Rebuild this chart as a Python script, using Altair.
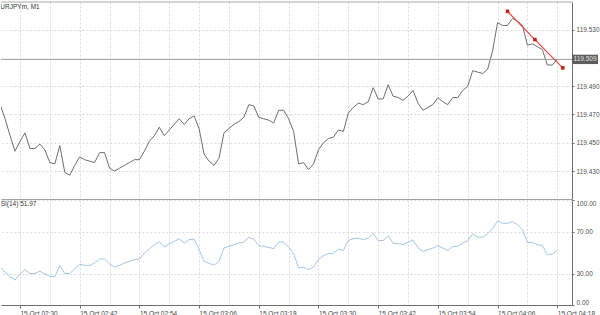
import altair as alt
import pandas as pd

# ---------------- data ----------------
symbol_label = "EURJPYm, M1"
rsi_label = "RSI(14) 51.97"
day_label = "15 Oct"
first_minute = 146          # 02:26 (minutes after midnight)

price = [
    119.477, 119.467, 119.455, 119.444, 119.451, 119.457, 119.446, 119.446, 119.449, 119.445,
    119.436, 119.435, 119.448, 119.429, 119.427, 119.434, 119.440, 119.438, 119.437, 119.436,
    119.443, 119.443, 119.432, 119.430, 119.432, 119.434, 119.436, 119.438, 119.438, 119.444,
    119.451, 119.455, 119.461, 119.455, 119.459, 119.463, 119.467, 119.463, 119.467, 119.469,
    119.460, 119.442, 119.437, 119.434, 119.439, 119.457, 119.460, 119.463, 119.465, 119.468,
    119.477, 119.476, 119.468, 119.467, 119.466, 119.464, 119.473, 119.473, 119.467, 119.458,
    119.435, 119.436, 119.431, 119.435, 119.445, 119.450, 119.453, 119.454, 119.459, 119.458,
    119.471, 119.475, 119.478, 119.477, 119.479, 119.489, 119.481, 119.481, 119.491, 119.483,
    119.482, 119.480, 119.483, 119.487, 119.478, 119.473, 119.475, 119.477, 119.482, 119.479,
    119.477, 119.482, 119.482, 119.487, 119.490, 119.501, 119.500, 119.499, 119.502, 119.515,
    119.535, 119.533, 119.533, 119.538, 119.536, 119.533, 119.519, 119.520, 119.518, 119.516,
    119.505, 119.505, 119.509,
]

rsi = [
    36.0, 31.2, 27.0, 23.7, 29.3, 33.8, 30.0, 30.0, 32.2, 29.6,
    27.4, 26.8, 37.6, 30.0, 30.0, 34.5, 38.8, 37.8, 37.6, 40.0,
    43.8, 43.8, 39.1, 36.0, 37.8, 40.0, 41.6, 43.2, 43.8, 49.5,
    53.6, 57.4, 60.5, 55.2, 58.4, 60.5, 63.1, 58.9, 62.2, 62.7,
    53.0, 41.6, 39.7, 37.8, 41.6, 54.2, 55.8, 57.4, 58.9, 59.9,
    64.3, 62.7, 56.5, 55.8, 54.9, 53.6, 59.9, 59.9, 55.2, 48.9,
    35.3, 36.0, 33.8, 36.0, 43.8, 47.0, 48.9, 48.9, 53.3, 52.0,
    61.5, 63.1, 63.7, 62.2, 63.7, 68.4, 61.2, 61.5, 65.9, 58.9,
    58.4, 57.7, 59.6, 62.0, 54.4, 51.1, 52.7, 54.2, 56.5, 54.2,
    52.0, 55.8, 55.8, 58.9, 61.2, 67.8, 64.6, 64.6, 67.8, 72.8,
    80.1, 77.8, 77.8, 79.5, 76.6, 71.9, 59.6, 59.6, 57.4, 56.8,
    48.0, 48.5, 51.97,
]

current_price = 119.509
trend_minutes = [248.0, 253.5, 259.1]
trend_prices = [119.543, 119.523, 119.503]

price_ticks = [119.43, 119.45, 119.47, 119.49, 119.53]
rsi_ticks = [0, 30, 70, 100]
grid_minutes = list(range(150, 259, 6))
label_every = 12
label_origin = 150

# ---------------- tables ----------------
minutes = [first_minute + i for i in range(len(price))]
df = pd.DataFrame({"t": minutes, "price": price, "rsi": rsi})
df_trend = pd.DataFrame({"t": trend_minutes, "price": trend_prices})
df_cur = pd.DataFrame({"price": [current_price], "label": [f"{current_price:.3f}"]})
df_title = pd.DataFrame({"label": [symbol_label]})
df_rsi_title = pd.DataFrame({"label": [rsi_label]})

FONT = "Liberation Sans"
FS = 6.5
W = 571

xscale = alt.Scale(domain=[146.18, 260.96], nice=False, zero=False)
pscale = alt.Scale(domain=[119.4102, 119.5496], nice=False, zero=False)
rscale = alt.Scale(domain=[0, 100], nice=False, zero=False)

grid_kw = dict(gridColor="#d9d9d9", gridDash=[2, 2], gridWidth=1)

top_x_axis = alt.Axis(orient="bottom", values=grid_minutes, labels=False, ticks=False,
                      title=None, domain=True, domainColor="#a0a0a0", grid=True, **grid_kw)
price_y_axis = alt.Axis(orient="right", values=price_ticks, format=".3f", title=None,
                        domain=True, domainColor="#6e6e6e", ticks=True, tickSize=2,
                        tickColor="#6e6e6e", labelFont=FONT, labelFontSize=FS,
                        labelColor="#505050", labelPadding=2, grid=True, **grid_kw)

X = alt.X("t:Q", scale=xscale, axis=top_x_axis)
YP = alt.Y("price:Q", scale=pscale, axis=price_y_axis)

price_line = alt.Chart(df).mark_line(color="#6e6e6e", strokeWidth=1, clip=True).encode(x=X, y=YP)

cur_rule = alt.Chart(df_cur).mark_rule(color="#9a9a9a", strokeWidth=1).encode(y=YP)

top_border = alt.Chart(df_title).mark_rule(color="#a8a8a8", strokeWidth=1).encode(y=alt.value(0))

trend_line = alt.Chart(df_trend).mark_line(stroke="#e8463d", color="#e8463d",
                                            strokeWidth=1.2).encode(x=X, y=YP)

trend_dots = alt.Chart(df_trend).mark_square(size=13, color="#c0271f", opacity=1).encode(x=X, y=YP)

box_shape = "M -1 -0.36 L 1 -0.36 L 1 0.36 L -1 0.36 Z"
cur_box = alt.Chart(df_cur).mark_point(shape=box_shape, size=676, filled=True,
                                       fill="#5e5e5e", opacity=1, strokeWidth=0).encode(
    x=alt.value(584), y=YP,
)
cur_text = alt.Chart(df_cur).mark_text(font=FONT, fontSize=FS, color="#e4e4e4",
                                       align="center", baseline="middle").encode(
    x=alt.value(584), y=YP, text="label:N",
)

title_text = alt.Chart(df_title).mark_text(font=FONT, fontSize=FS, color="#333333",
                                           align="left", baseline="middle", clip=True).encode(
    x=alt.value(-5), y=alt.value(5), text="label:N",
)

top = alt.layer(price_line, cur_rule, top_border, trend_line, trend_dots,
                cur_box, cur_text, title_text).properties(width=W, height=197)

label_test = f"(datum.value - {label_origin}) % {label_every} == 0"
bottom_x_axis = alt.Axis(
    orient="bottom", values=grid_minutes, title=None,
    labelExpr=(f"{label_test} ? '{day_label} ' + format(floor(datum.value / 60), '02d') + ':' + "
               f"format(datum.value % 60, '02d') : ''"),
    labelAlign="left", labelBaseline="top", labelPadding=2, labelFont=FONT,
    labelFontSize=FS, labelColor="#444444", labelOverlap=False, labelFlush=False,
    labelBound=False, domain=True, domainColor="#6e6e6e",
    ticks=True, tickSize=3, tickColor="#6e6e6e",
    tickOpacity={"condition": {"test": label_test, "value": 1}, "value": 0},
    grid=True, **grid_kw,
)
rsi_y_axis = alt.Axis(orient="right", values=rsi_ticks, format=".2f", title=None,
                      domain=True, domainColor="#6e6e6e", ticks=True, tickSize=2,
                      tickColor="#6e6e6e", labelFont=FONT, labelFontSize=FS,
                      labelColor="#505050", labelPadding=2, labelFlush=True,
                      grid=True, **grid_kw)

rsi_line = alt.Chart(df).mark_line(color="#a4c6e2", strokeWidth=1, clip=True).encode(
    x=alt.X("t:Q", scale=xscale, axis=bottom_x_axis),
    y=alt.Y("rsi:Q", scale=rscale, axis=rsi_y_axis),
)
rsi_title = alt.Chart(df_rsi_title).mark_text(font=FONT, fontSize=FS, color="#333333",
                                              align="left", baseline="middle", clip=True).encode(
    x=alt.value(-5), y=alt.value(4), text="label:N",
)

bottom = alt.layer(rsi_line, rsi_title).properties(width=W, height=105)

chart = alt.vconcat(top, bottom, spacing=0).properties(
    padding={"left": 0, "top": 1, "right": 0, "bottom": 0},
    background="white",
).configure_view(stroke=None)

chart.save("out.html", embed_options={"renderer": "svg", "actions": False})
